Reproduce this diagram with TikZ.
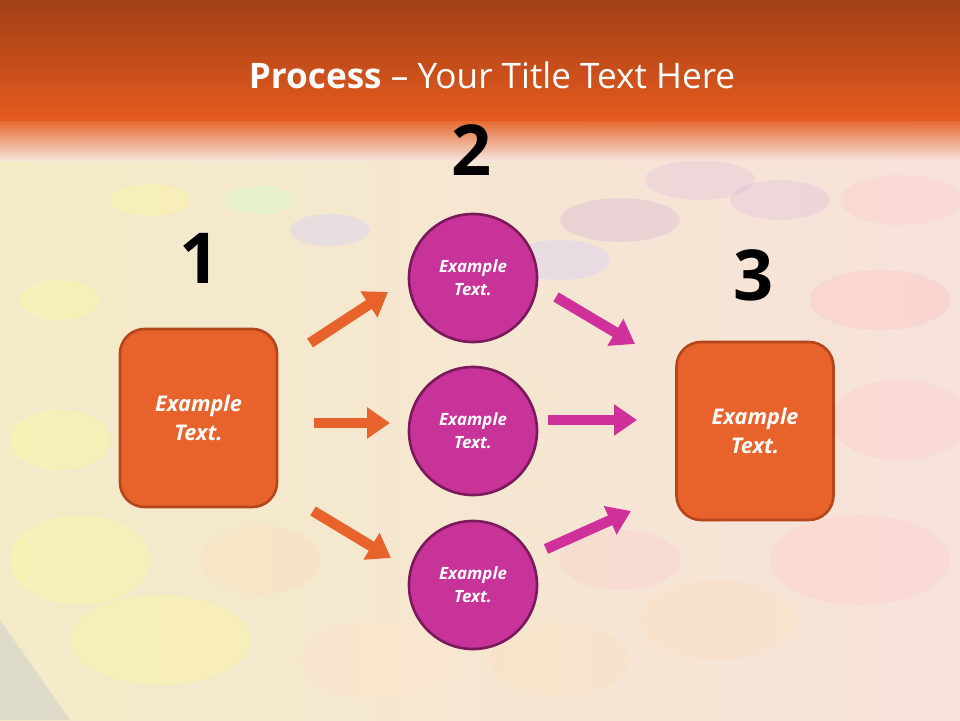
\documentclass[tikz,border=0pt]{standalone}
\usepackage{fontspec}
\setmainfont{Open Sans}
\usetikzlibrary{arrows.meta}
\definecolor{bgpink}{HTML}{F7E2DA}
\definecolor{bgyel}{HTML}{F3EBC8}
\definecolor{hdtop}{HTML}{A13F16}
\definecolor{hdmid}{HTML}{E55A1E}
\definecolor{boxor}{HTML}{E8622C}
\definecolor{boxbd}{HTML}{B5461C}
\definecolor{circ}{HTML}{C8339A}
\definecolor{circbd}{HTML}{7A1A5A}
\definecolor{arrmag}{HTML}{D0309A}
\definecolor{arror}{HTML}{E8622C}
\tikzset{
 sqbox/.style={draw=boxbd,line width=1.5pt,fill=boxor,rounded corners=14pt,minimum width=157*0.02cm,minimum height=178*0.02cm,text=white,font=\bfseries\itshape\fontsize{12.3}{16.5}\selectfont,align=center},
 circnode/.style={circle,draw=circbd,line width=1.5pt,fill=circ,minimum size=128*0.02cm,text=white,font=\bfseries\itshape\fontsize{9.6}{13}\selectfont,align=center},
 num/.style={font=\bfseries\fontsize{40}{44}\selectfont,text=black},
 blk/.style={line width=6pt,-{Triangle[length=13pt,width=17pt]}},
 dot/.style={fill opacity=0.35}
}
\begin{document}
\begin{tikzpicture}[x=0.02cm,y=-0.02cm]
\useasboundingbox (0,0) rectangle (960,720);
\shade[left color=bgyel,right color=bgpink] (0,0) rectangle (960,720);
% faint ellipse texture
\foreach \cx/\cy/\rx/\ry/\c in {
 620/220/60/22/violet!30, 700/180/55/20/violet!25, 560/260/50/20/blue!20,
 880/300/70/30/red!25, 900/420/70/40/red!20, 860/560/90/45/red!20,
 720/620/80/40/orange!25, 560/660/70/35/orange!25, 380/660/80/40/orange!20,
 160/640/90/45/yellow!40, 80/560/70/45/yellow!40, 60/440/50/30/yellow!40,
 260/560/60/35/orange!25, 330/230/40/16/blue!20, 260/200/35/14/green!20,
 150/200/40/16/yellow!40, 60/300/40/20/yellow!40, 620/560/60/30/red!20,
 900/200/60/25/red!20, 780/200/50/20/violet!25}
 {\fill[\c,dot] (\cx,\cy) ellipse ({\rx} and {\ry});}
\fill[gray!40,opacity=0.5] (0,620) -- (70,720) -- (0,720) -- cycle;
% header
\shade[top color=hdtop,bottom color=hdmid] (0,0) rectangle (960,120);
\shade[top color=hdmid,bottom color=bgpink,opacity=0.9] (0,120) rectangle (960,160);
\node[text=white,font=\fontsize{20}{24}\selectfont] (title) at (492,75) {\textbf{Process} -- Your Title Text Here};
% numbers
\node[num] (n1) at (200,258) {1};
\node[num] (n2) at (472,150) {2};
\node[num] (n3) at (754,275) {3};
% boxes
\node[sqbox] (b1) at (198.5,418) {Example\\Text.};
\node[sqbox] (b3) at (755,431) {Example\\Text.};
\node[circnode] (c1) at (473,278) {Example\\Text.};
\node[circnode] (c2) at (473,431) {Example\\Text.};
\node[circnode] (c3) at (473,585) {Example\\Text.};
% arrow endpoints
\coordinate (a1s) at (310,343); \coordinate (a1e) at (388,292);
\coordinate (a2s) at (314,423); \coordinate (a2e) at (390,423);
\coordinate (a3s) at (313,511); \coordinate (a3e) at (391,558);
\coordinate (m1s) at (556,297); \coordinate (m1e) at (635,344);
\coordinate (m2s) at (548,420); \coordinate (m2e) at (637,420);
\coordinate (m3s) at (546,549); \coordinate (m3e) at (631,511);
\draw[blk,arror] (a1s) -- (a1e);
\draw[blk,arror] (a2s) -- (a2e);
\draw[blk,arror] (a3s) -- (a3e);
\draw[blk,arrmag] (m1s) -- (m1e);
\draw[blk,arrmag] (m2s) -- (m2e);
\draw[blk,arrmag] (m3s) -- (m3e);
\end{tikzpicture}
\end{document}
